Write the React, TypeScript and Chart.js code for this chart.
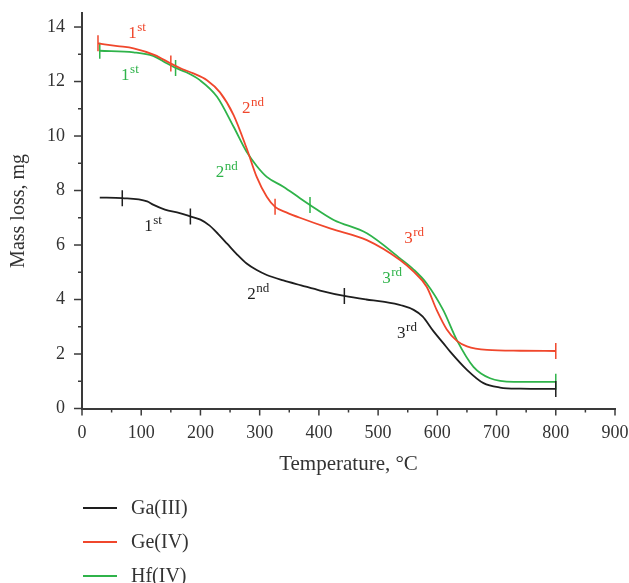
import React, { useEffect, useRef } from 'react';
import { Chart, registerables } from 'chart.js';

Chart.register(...registerables);

const FONT = "'Liberation Serif', 'DejaVu Serif', serif";
const AXIS_COLOR = '#3a3a3a';

const seriesNames = ['Ga(III)', 'Ge(IV)', 'Hf(IV)'];
const seriesColors = ['#1e1e1e', '#f0472c', '#2fb34a'];

// Ga(III)
const gaTemp = [30, 68, 110, 120, 140, 165, 183, 200, 215, 230, 245, 262, 278, 295, 312, 340, 370, 402, 443, 480, 508, 540, 560, 575, 593, 610, 622, 650, 678, 706, 740, 800];
const gaMass = [7.74, 7.72, 7.6, 7.48, 7.3, 7.17, 7.05, 6.93, 6.72, 6.4, 6.05, 5.65, 5.32, 5.08, 4.9, 4.7, 4.52, 4.33, 4.13, 4.0, 3.92, 3.78, 3.62, 3.38, 2.85, 2.4, 2.08, 1.42, 0.93, 0.77, 0.73, 0.72];
const gaMarkers = [68, 183, 443, 800];

// Ge(IV)
const geTemp = [27, 60, 87, 123, 150, 170, 188, 211, 233, 256, 278, 295, 312, 326, 345, 368, 420, 481, 537, 560, 582, 599, 616, 633, 650, 684, 740, 800];
const geMass = [13.4, 13.3, 13.22, 12.97, 12.66, 12.45, 12.3, 12.05, 11.6, 10.77, 9.55, 8.5, 7.77, 7.4, 7.2, 7.0, 6.6, 6.18, 5.45, 5.02, 4.47, 3.61, 2.9, 2.48, 2.28, 2.15, 2.12, 2.11];
const geMarkers = [27, 150, 326, 800];

// Hf(IV)
const hfTemp = [30, 87, 120, 143, 158, 175, 199, 228, 256, 278, 295, 312, 340, 368, 385, 425, 481, 537, 560, 582, 610, 633, 661, 689, 729, 800];
const hfMass = [13.13, 13.07, 12.94, 12.67, 12.5, 12.35, 12.05, 11.44, 10.34, 9.42, 8.9, 8.5, 8.14, 7.72, 7.47, 6.92, 6.43, 5.51, 5.1, 4.59, 3.61, 2.51, 1.53, 1.11, 0.98, 0.98];
const hfMarkers = [30, 158, 385, 800];

const temps = [gaTemp, geTemp, hfTemp];
const masses = [gaMass, geMass, hfMass];
const markers = [gaMarkers, geMarkers, hfMarkers];

// stage labels: series index, number, suffix, temperature, mass (baseline anchor)
const stageSeries = [1, 2, 1, 2, 0, 0, 1, 2, 0];
const stageNum = ['1', '1', '2', '2', '1', '2', '3', '3', '3'];
const stageSup = ['st', 'st', 'nd', 'nd', 'st', 'nd', 'rd', 'rd', 'rd'];
const stageTemp = [78, 66, 270, 226, 105, 279, 544, 507, 532];
const stageMass = [13.6, 12.05, 10.84, 8.5, 6.51, 4.02, 6.07, 4.6, 2.59];

const X_MIN = 0, X_MAX = 900, X_STEP = 100, X_MINOR = 50;
const Y_MIN = 0, Y_MAX = 14.5, Y_STEP = 2, Y_MINOR = 1;

const decorPlugin = {
  id: 'decor',
  afterDraw(chart: any) {
    const { ctx, chartArea, scales } = chart;
    const x = scales.x, y = scales.y;
    ctx.save();
    ctx.strokeStyle = AXIS_COLOR;
    ctx.lineWidth = 1.5;
    for (let v = X_MIN; v <= X_MAX; v += X_MINOR) {
      const px = x.getPixelForValue(v);
      const len = v % X_STEP === 0 ? 7 : 4;
      ctx.beginPath();
      ctx.moveTo(px, chartArea.bottom);
      ctx.lineTo(px, chartArea.bottom + len);
      ctx.stroke();
    }
    for (let v = Y_MIN; v <= 14; v += Y_MINOR) {
      const py = y.getPixelForValue(v);
      const len = v % Y_STEP === 0 ? 8 : 4;
      ctx.beginPath();
      ctx.moveTo(chartArea.left, py);
      ctx.lineTo(chartArea.left - len, py);
      ctx.stroke();
    }
    ctx.textBaseline = 'alphabetic';
    ctx.textAlign = 'left';
    for (let i = 0; i < stageNum.length; i++) {
      const color = seriesColors[stageSeries[i]];
      const px = x.getPixelForValue(stageTemp[i]);
      const py = y.getPixelForValue(stageMass[i]);
      ctx.fillStyle = color;
      ctx.font = `17px ${FONT}`;
      ctx.fillText(stageNum[i], px, py);
      const w = ctx.measureText(stageNum[i]).width;
      ctx.font = `13px ${FONT}`;
      ctx.fillText(stageSup[i], px + w + 0.5, py - 7);
    }
    const legendX = chartArea.left + 1;
    const legendTop = 508;
    const legendGap = 34;
    ctx.font = `20px ${FONT}`;
    ctx.textBaseline = 'middle';
    for (let i = 0; i < seriesNames.length; i++) {
      const ly = legendTop + i * legendGap;
      ctx.strokeStyle = seriesColors[i];
      ctx.lineWidth = 2;
      ctx.beginPath();
      ctx.moveTo(legendX, ly);
      ctx.lineTo(legendX + 34, ly);
      ctx.stroke();
      ctx.fillStyle = '#333';
      ctx.fillText(seriesNames[i], legendX + 48, ly + 1);
    }
    ctx.restore();
  },
};

export default function App() {
  const ref = useRef<HTMLCanvasElement>(null);
  useEffect(() => {
    if (!ref.current) return;
    const datasets = seriesNames.map((name, i) => ({
      label: name,
      data: temps[i].map((t, j) => ({ x: t, y: masses[i][j] })),
      borderColor: seriesColors[i],
      backgroundColor: seriesColors[i],
      borderWidth: 1.8,
      cubicInterpolationMode: 'monotone' as const,
      fill: false,
      pointStyle: 'line' as const,
      rotation: 90,
      pointRadius: (c: any) => (markers[i].includes(c.raw?.x) ? 8 : 0),
      pointHoverRadius: 0,
      pointBorderWidth: 1.5,
      pointBorderColor: seriesColors[i],
    }));
    const chart = new Chart(ref.current, {
      type: 'line',
      data: { datasets },
      plugins: [decorPlugin],
      options: {
        animation: false,
        responsive: false,
        events: [],
        layout: { padding: { left: 0, right: 14, top: 13.4, bottom: 104.5 } },
        plugins: { legend: { display: false }, tooltip: { enabled: false } },
        scales: {
          x: {
            type: 'linear',
            min: X_MIN,
            max: X_MAX,
            afterFit: (s: any) => { s.height = 70; s.paddingLeft = 0; s.paddingRight = 0; },
            grid: { display: false, drawTicks: false },
            border: { display: true, color: AXIS_COLOR, width: 2 },
            ticks: { stepSize: X_STEP, padding: 14, color: '#333', font: { family: FONT, size: 18 }, maxRotation: 0 },
            title: { display: true, text: 'Temperature, °C', color: '#333', font: { family: FONT, size: 21 }, padding: { top: 0, bottom: 1 } },
          },
          y: {
            type: 'linear',
            min: Y_MIN,
            max: Y_MAX,
            afterFit: (s: any) => { s.width = 82; s.paddingTop = 0; s.paddingBottom = 0; },
            grid: { display: false, drawTicks: false },
            border: { display: true, color: AXIS_COLOR, width: 2 },
            ticks: { stepSize: Y_STEP, includeBounds: false, padding: 17, color: '#333', font: { family: FONT, size: 18 } },
            title: { display: true, text: 'Mass loss, mg', color: '#333', font: { family: FONT, size: 20 }, padding: { top: 6.5, bottom: 0 } },
          },
        },
      },
    });
    return () => chart.destroy();
  }, []);
  return (
    <div style={{ position: 'absolute', left: 0, top: 0, width: 629, height: 583 }}>
      <canvas ref={ref} width={629} height={583} />
    </div>
  );
}
